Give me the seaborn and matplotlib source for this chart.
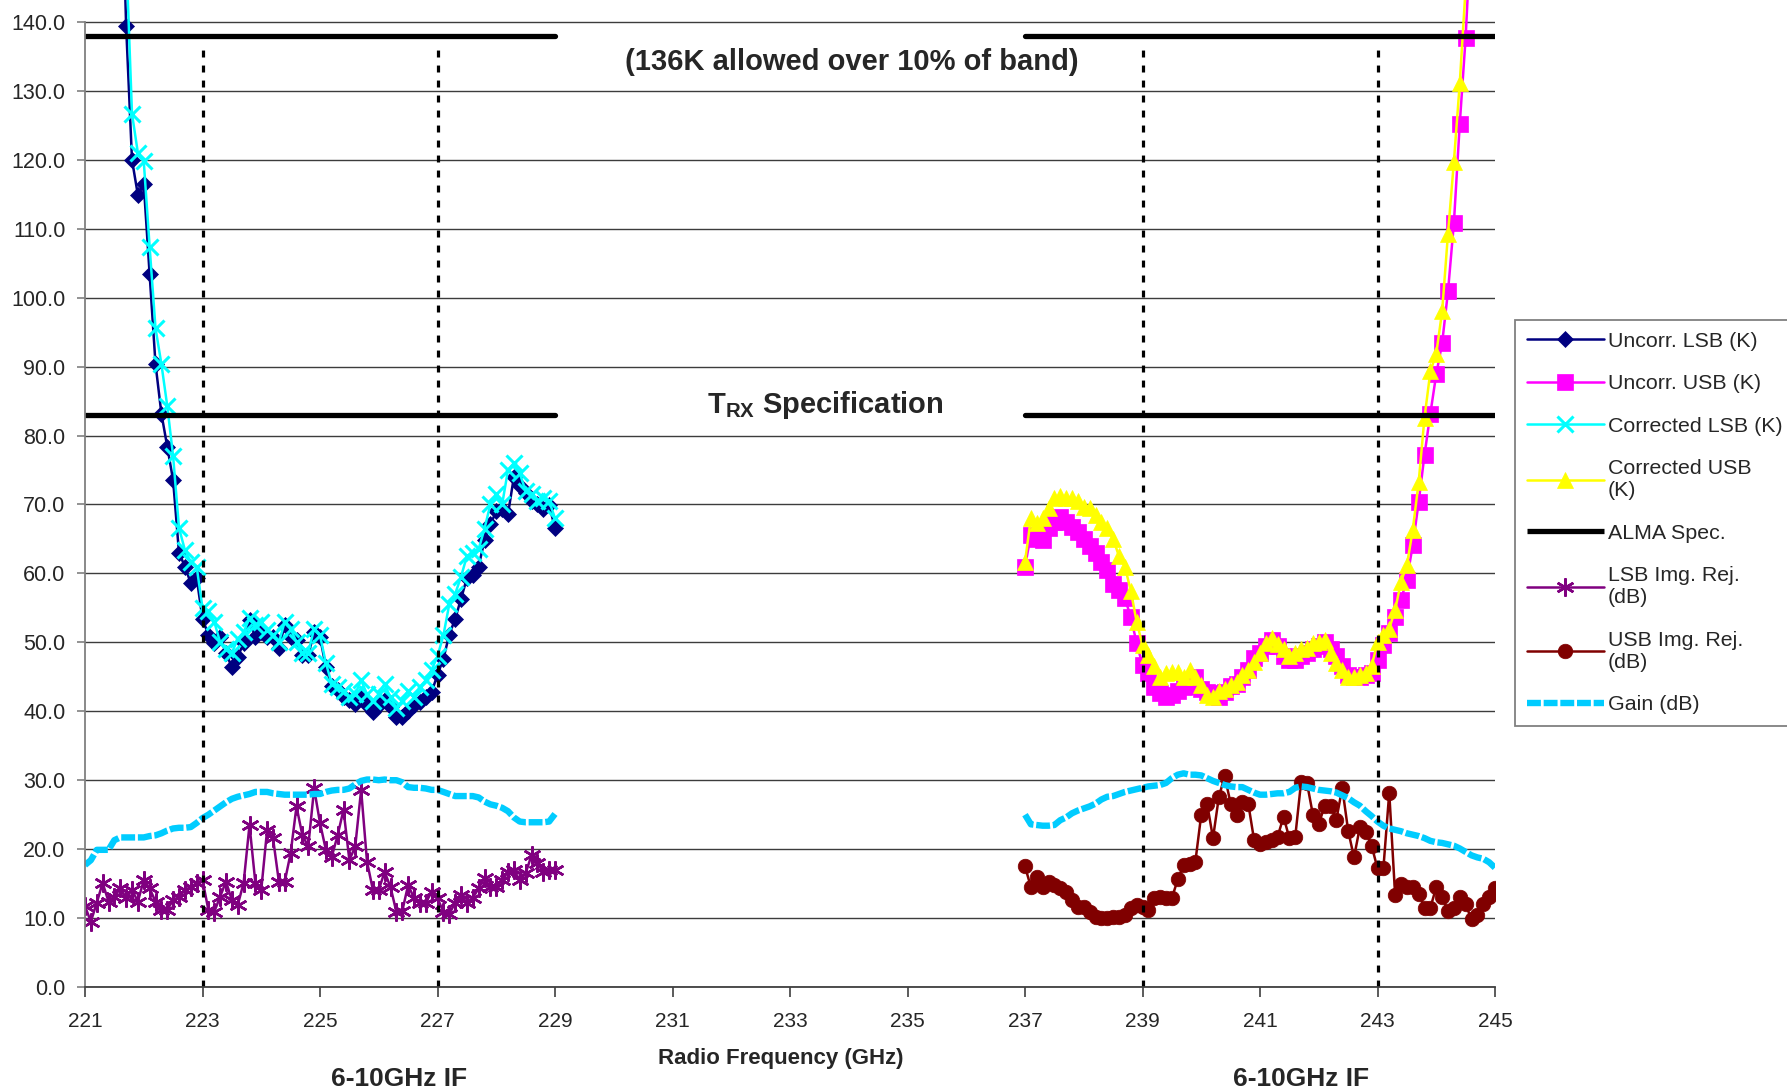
import numpy as np
import matplotlib
matplotlib.use("Agg")
import matplotlib.pyplot as plt
from matplotlib.ticker import FormatStrFormatter
import seaborn as sns

# measurement grids (GHz), 0.1 GHz steps over each 6-10 GHz IF band
lsb_freq = np.round(np.arange(221.0, 229.05, 0.1), 1)
usb_freq = np.round(np.arange(237.0, 245.05, 0.1), 1)

uncorr_lsb = [300, 280, 260, 240, 220, 195, 170, 139.4, 120.0, 114.9,
              116.5, 103.4, 90.4, 83.2, 78.4, 73.5, 63.0, 61.0, 58.6, 59.4,
              53.4, 51.1, 49.9, 50.8, 48.4, 46.4, 47.9, 49.9, 53.2, 50.8,
              51.5, 50.8, 50.8, 49.2, 52.5, 50.8, 50.3, 48.1, 48.1, 51.5,
              50.8, 46.4, 43.6, 43.1, 42.1, 41.6, 41.1, 42.1, 40.9, 39.9,
              40.9, 41.6, 40.6, 39.1, 39.1, 40.0, 40.9, 41.4, 42.1, 42.8,
              45.3, 47.6, 51.1, 53.4, 56.3, 59.3, 59.8, 61.0, 64.8, 67.1,
              69.0, 69.3, 68.6, 74.0, 72.7, 71.7, 70.5, 70.0, 69.4, 69.9,
              66.6]

corr_lsb = [310, 290, 270, 250, 225, 200, 175, 150, 126.7, 121.0,
            119.8, 107.4, 95.6, 90.4, 84.3, 77.0, 66.6, 63.4, 61.6, 61.0,
            55.0, 54.5, 53.0, 50.0, 49.0, 48.5, 50.5, 51.5, 53.5, 52.5,
            53.0, 51.8, 51.0, 50.0, 53.0, 52.0, 50.0, 48.5, 48.5, 52.0,
            51.0, 47.0, 44.0, 43.5, 43.0, 42.0, 42.5, 44.5, 42.5, 41.5,
            42.5, 44.0, 42.0, 40.5, 41.5, 43.0, 42.0, 43.5, 44.5, 46.0,
            48.0, 51.0, 55.5, 57.0, 59.5, 62.5, 63.0, 63.5, 66.5, 70.0,
            71.5, 70.0, 75.0, 76.0, 74.5, 72.0, 71.5, 70.5, 71.0, 70.5,
            68.0]

uncorr_usb = [61.0, 65.6, 65.0, 64.9, 66.6, 67.5, 68.2, 67.5, 66.8, 66.0,
              65.0, 64.0, 63.0, 61.7, 60.5, 58.5, 57.6, 56.4, 53.7, 49.9,
              46.7, 45.5, 43.5, 42.6, 42.1, 42.3, 43.0, 43.5, 43.6, 45.0,
              43.2, 42.8, 42.6, 42.0, 42.8, 43.6, 44.0, 45.0, 46.0, 47.7,
              48.4, 49.5, 50.3, 49.5, 48.0, 47.4, 47.5, 48.0, 48.5, 49.0,
              49.5, 50.0, 49.0, 48.0, 46.5, 45.2, 45.0, 45.0, 45.2, 45.5,
              47.5, 49.6, 51.3, 53.7, 56.2, 59.1, 64.1, 70.3, 77.2, 83.2,
              88.9, 93.4, 100.9, 110.8, 125.2, 137.7, 155.0, 175.0, 195.0, 215.0,
              235.0]

corr_usb = [61.7, 68.0, 67.3, 68.0, 69.5, 70.9, 71.3, 70.9, 71.0, 70.5,
            69.7, 69.5, 68.5, 67.5, 66.6, 65.0, 62.5, 61.0, 57.5, 53.0,
            49.6, 48.2, 46.5, 45.0, 45.5, 45.7, 45.7, 45.0, 46.0, 45.0,
            43.8, 42.4, 42.0, 42.9, 43.3, 43.8, 44.3, 45.2, 46.0, 47.2,
            48.5, 49.9, 50.6, 49.8, 49.0, 48.0, 48.5, 49.0, 49.2, 49.9,
            50.0, 50.3, 48.5, 47.0, 46.0, 45.0, 45.0, 45.2, 45.5, 46.5,
            50.1, 51.0, 52.0, 54.7, 58.8, 61.2, 66.3, 73.2, 82.6, 89.3,
            91.9, 98.0, 109.3, 119.7, 131.1, 145.0, 165.0, 185.0, 205.0, 225.0,
            245.0]

lsb_img_rej = [11.7, 9.5, 12.2, 15.1, 12.4, 13.1, 14.3, 12.9, 14.1, 12.4,
               15.5, 14.3, 12.4, 11.2, 11.2, 12.6, 13.1, 14.1, 14.5, 15.1,
               15.5, 11.2, 10.9, 13.1, 15.3, 12.6, 11.9, 15.1, 23.5, 15.1,
               14.1, 22.8, 21.6, 15.3, 15.3, 19.4, 26.2, 22.0, 20.4, 28.8,
               23.8, 19.9, 18.9, 22.0, 25.7, 18.4, 20.4, 28.6, 18.2, 14.1,
               14.1, 16.7, 14.5, 10.9, 11.0, 14.8, 12.9, 12.2, 12.2, 13.8,
               12.9, 10.9, 10.6, 12.2, 13.3, 12.2, 12.9, 14.3, 15.8, 14.5,
               14.5, 15.5, 16.7, 17.0, 15.5, 16.5, 19.1, 18.0, 16.7, 17.0,
               17.0]

usb_img_rej = [17.5, 14.5, 16.0, 14.5, 15.3, 14.8, 14.3, 13.8, 12.6, 11.6,
               11.6, 10.9, 10.2, 10.0, 10.0, 10.2, 10.2, 10.4, 11.4, 11.9,
               11.6, 11.2, 12.9, 13.1, 12.9, 12.9, 15.6, 17.7, 17.9, 18.2,
               25.0, 26.6, 21.6, 27.6, 30.6, 26.6, 25.0, 26.9, 26.6, 21.3,
               20.8, 21.0, 21.3, 21.8, 24.7, 21.6, 21.8, 29.8, 29.6, 25.0,
               23.7, 26.2, 26.3, 24.3, 28.9, 22.7, 18.8, 23.2, 22.5, 20.5,
               17.2, 17.2, 28.2, 13.3, 15.0, 14.5, 14.5, 13.5, 11.5, 11.5,
               14.5, 13.0, 11.0, 11.5, 13.0, 12.0, 9.8, 10.5, 12.0, 13.0,
               14.3]

gain_lsb = [17.7, 18.4, 19.9, 19.9, 19.9, 21.3, 21.7, 21.7, 21.7, 21.7,
            21.7, 21.9, 22.0, 22.3, 22.7, 23.0, 23.1, 23.1, 23.2, 23.8,
            24.5, 25.0, 25.6, 26.2, 26.8, 27.3, 27.6, 27.8, 28.0, 28.3,
            28.3, 28.3, 28.1, 28.0, 27.9, 27.9, 27.9, 27.9, 27.9, 28.0,
            28.0, 28.3, 28.5, 28.6, 28.6, 28.8, 29.4, 29.9, 30.1, 30.1,
            30.0, 30.1, 30.0, 30.0, 29.7, 29.0, 28.9, 28.9, 28.8, 28.6,
            28.6, 28.3, 28.0, 27.7, 27.7, 27.7, 27.7, 27.5, 26.9, 26.5,
            26.3, 26.0, 25.5, 24.6, 24.0, 23.9, 23.9, 23.9, 23.9, 24.0,
            25.1]

gain_usb = [25.0, 23.6, 23.5, 23.4, 23.4, 23.5, 24.2, 24.6, 25.2, 25.6,
            25.9, 26.2, 26.6, 27.2, 27.6, 27.7, 28.0, 28.3, 28.5, 28.7,
            28.9, 29.1, 29.2, 29.3, 29.6, 30.3, 30.8, 31.0, 30.8, 30.8,
            30.7, 30.3, 29.9, 29.6, 29.3, 29.1, 29.0, 29.0, 28.6, 28.2,
            27.9, 27.9, 28.0, 28.1, 28.1, 28.3, 28.9, 29.1, 29.0, 28.8,
            28.6, 28.5, 28.4, 28.2, 27.8, 27.4, 26.8, 26.3, 25.5, 24.8,
            24.0, 23.4, 23.0, 22.8, 22.6, 22.3, 22.1, 21.9, 21.6, 21.2,
            21.0, 20.9, 20.7, 20.5, 20.1, 19.6, 19.1, 18.8, 18.6, 18.1,
            17.3]

# ALMA receiver temperature spec and IF band edges
spec_levels = [138.0, 83.0]
spec_bands = [(221.0, 229.0), (237.0, 245.0)]
if_edges = [223, 227, 239, 243]

sns.set_style("white")
plt.rcParams["font.family"] = ["Liberation Sans", "DejaVu Sans"]
plt.rcParams["lines.scale_dashes"] = False
plt.rcParams["mathtext.fontset"] = "custom"
plt.rcParams["mathtext.rm"] = "Liberation Sans"
plt.rcParams["mathtext.bf"] = "Liberation Sans:bold"

W, H = 1787, 1089
fig = plt.figure(figsize=(W / 100, H / 100), dpi=100)
ax = fig.add_axes([85 / W, 102 / H, 1410 / W, 987 / H])

common = dict(ax=ax, estimator=None, sort=False, lw=1.8)
sns.lineplot(x=lsb_freq, y=uncorr_lsb, color="#000080", marker="D", markersize=8.5,
             mec="#000080", mew=0.5, label="Uncorr. LSB (K)", **common)
sns.lineplot(x=usb_freq, y=uncorr_usb, color="#FF00FF", marker="s", markersize=11,
             mec="#FF00FF", mew=0.5, label="Uncorr. USB (K)", **common)
sns.lineplot(x=lsb_freq, y=corr_lsb, color="#00FFFF", marker="x", markersize=11.5,
             mec="#00FFFF", mew=2.2, label="Corrected LSB (K)", **common)
sns.lineplot(x=usb_freq, y=corr_usb, color="#FFFF00", marker="^", markersize=12,
             mec="#FFFF00", mew=0.5, label="Corrected USB\n(K)", **common)

for lvl in spec_levels:
    ax.hlines([lvl] * len(spec_bands), [b[0] for b in spec_bands], [b[1] for b in spec_bands],
              colors="black", lw=3.8, capstyle="round",
              label="ALMA Spec." if lvl == spec_levels[0] else "_spec")

sns.lineplot(x=lsb_freq, y=lsb_img_rej, color="#800080", marker=(6, 2, 0), markersize=13,
             mec="#800080", mew=1.8, label="LSB Img. Rej.\n(dB)", **common)
sns.lineplot(x=usb_freq, y=usb_img_rej, color="#800000", marker="o", markersize=10.5,
             mec="#800000", mew=0.5, label="USB Img. Rej.\n(dB)", **common)

gain_style = dict(ax=ax, estimator=None, sort=False, color="#00CCFF", lw=4.6,
                  linestyle=(0, (10, 2)))
sns.lineplot(x=lsb_freq, y=gain_lsb, label="Gain (dB)", **gain_style)
sns.lineplot(x=usb_freq, y=gain_usb, label="_gain_usb", **gain_style)

ax.vlines(if_edges, 0, 136.5, colors="black", lw=2.3, linestyles=(0, (5, 5.8)))

# axes
ax.set_xlim(221, 245)
ax.set_ylim(0, 987 / 6.893)
ax.set_xticks(np.arange(221, 246, 2))
ax.set_yticks(np.arange(0, 141, 10))
ax.yaxis.set_major_formatter(FormatStrFormatter("%.1f"))
ax.set_axisbelow(True)
ax.yaxis.grid(True, color="#3c3c3c", lw=1.0)
ax.xaxis.grid(False)
for s in ["top", "right"]:
    ax.spines[s].set_visible(False)
ax.spines["left"].set_color("#808080")
ax.spines["left"].set_linewidth(1.3)
ax.spines["left"].set_bounds(0, 140)
ax.spines["bottom"].set_color("#404040")
ax.spines["bottom"].set_linewidth(1.3)
ax.tick_params(axis="y", left=True, direction="out", length=6, width=1.2,
               color="#808080", labelsize=15.5, pad=8)
ax.tick_params(axis="x", bottom=True, direction="out", length=7, width=1.2,
               color="#404040", labelsize=15, pad=11)

ax.set_xlabel("Radio Frequency (GHz)", fontsize=16, fontweight="bold", va="baseline")
ax.xaxis.set_label_coords((781 - 85) / 1410, -(1064 - 987) / 987)
ax.set_ylabel("")

fig.text(852 / W, 1 - 70 / H, "(136K allowed over 10% of band)", ha="center",
         va="baseline", fontsize=21, fontweight="bold")
fig.text(825 / W, 1 - 413 / H, r"$\mathbf{T_{RX}}$ Specification", ha="center",
         va="baseline", fontsize=21, fontweight="bold")
for xc in [399, 1301]:
    fig.text(xc / W, 1 - 1086 / H, "6-10GHz IF", ha="center", va="baseline",
             fontsize=19, fontweight="bold")

order = ["Uncorr. LSB (K)", "Uncorr. USB (K)", "Corrected LSB (K)", "Corrected USB\n(K)",
         "ALMA Spec.", "LSB Img. Rej.\n(dB)", "USB Img. Rej.\n(dB)", "Gain (dB)"]
handles, labels = ax.get_legend_handles_labels()
lookup = dict(zip(labels, handles))
leg = ax.legend([lookup[l] for l in order], order, loc="upper left",
                bbox_to_anchor=(1515 / W, 1 - 320 / H), bbox_transform=fig.transFigure,
                borderaxespad=0, frameon=True, fancybox=False, framealpha=1,
                edgecolor="#808080", fontsize=15.4, handlelength=3.6, handletextpad=0.2,
                borderpad=0.55, labelspacing=1.1)
leg.get_frame().set_linewidth(1.3)

fig.savefig("out.png", dpi=100)
